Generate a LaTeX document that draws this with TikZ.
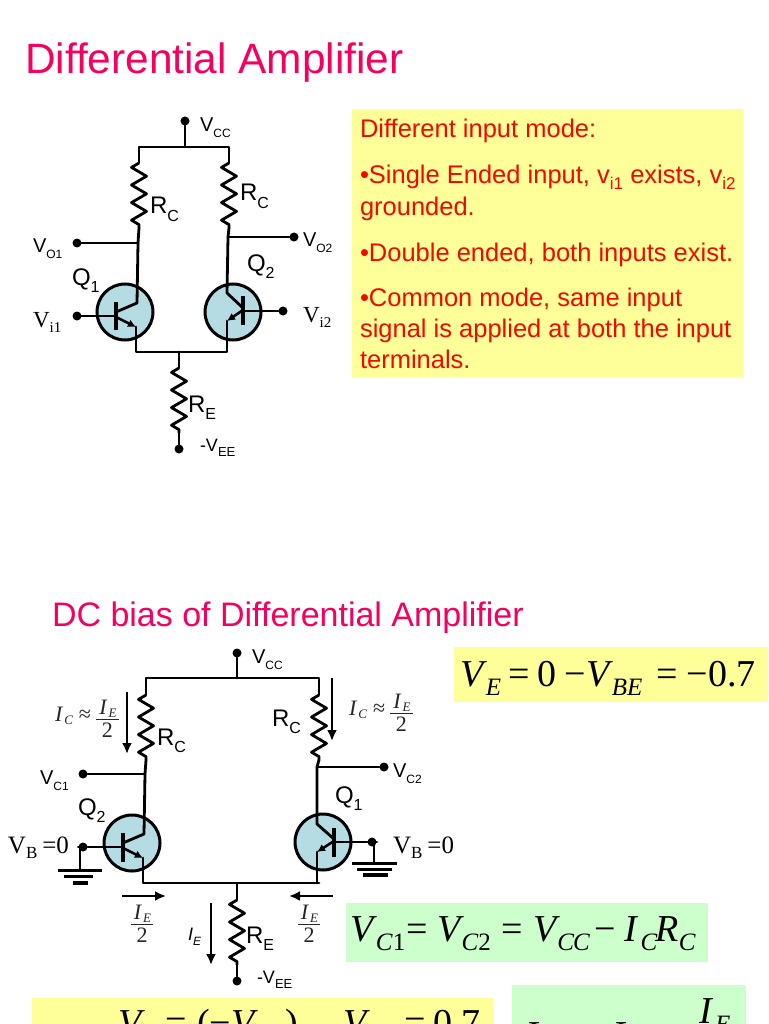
\documentclass[tikz,border=0pt]{standalone}
\usepackage{fontspec}
\setmainfont[Ligatures=NoCommon]{Liberation Sans}
\newfontfamily\tms[Ligatures=NoCommon]{Liberation Serif}
\usetikzlibrary{arrows.meta,decorations.pathmorphing}
\definecolor{ybox}{HTML}{FFFF99}
\definecolor{gbox}{HTML}{CCFFCC}
\definecolor{tred}{HTML}{EE0A00}
\definecolor{tpink}{HTML}{F5005F}
\definecolor{tblue}{HTML}{B4DCE2}
\newcommand\fsz[1]{\fontsize{#1}{#1}\selectfont}
% sans label with subscript
\newcommand\slab[4]{{\fsz{#1}#2\raisebox{-0.3em}{\fsz{#3}#4}}}
% serif label with subscript
\newcommand\tlab[4]{{\tms\fsz{#1}#2\raisebox{-0.22em}{\fsz{#3}#4}}}
% big equation pieces
\newcommand\eS[1]{\raisebox{-9pt}{\fsz{25}#1}}
\newcommand\eI[1]{\textit{#1}}
\newcommand\eT[1]{{\tms\fsz{38}#1}}
\newcommand\smI[1]{\mbox{\tms\itshape\fsz{22}I\kern2pt\raisebox{-3pt}{\fsz{13}#1}}}
\newcommand\iefrac{$\displaystyle{\mbox{\kern3pt\smI{E}\kern2pt\rule[-3pt]{0pt}{3pt}}\over\mbox{\tms\fsz{22}\rule{0pt}{17pt}2}}$}
\newcommand\icfrac{\smI{C}\kern6pt{\tms\fsz{22}≈}\kern4pt\iefrac}
\tikzset{
  wire/.style={line width=2.8pt,line cap=round,line join=round},
  res/.style={xshift=-2pt,line width=2.8pt,line join=round,decorate,decoration={zigzag,segment length=17.6pt,amplitude=-7.5pt}},
  curr/.style={line width=2.4pt,-{Latex[length=11pt,width=10pt]}},
  emit/.style={line width=2.6pt,-{Latex[length=8pt,width=8pt]}},
  bar/.style={line width=3.4pt},
  dot/.style={circle,fill=black,inner sep=0pt,minimum size=9pt},
  bjt/.style={circle,draw=black,line width=3pt,fill=tblue,inner sep=0pt,minimum size=56pt},
  lbl/.style={anchor=base west,inner sep=0pt,outer sep=0pt},
  ctr/.style={anchor=center,inner sep=0pt,outer sep=0pt,text=black!85},
  rtext/.style={lbl,text=tred,font=\fsz{25.5}},
}
\begin{document}
\begin{tikzpicture}[x=1pt,y=-1pt]
\path[use as bounding box,clip] (0,0) rectangle (768,1024);
\fill[white] (0,0) rectangle (768,1024);
% boxes
\fill[ybox] (352,109) rectangle (743,377);
\fill[ybox] (454,647) rectangle (768,702);
\fill[gbox] (346,903) rectangle (708,962);
\fill[ybox] (32,998) rectangle (493,1024);
\fill[gbox] (512,985) rectangle (746,1024);
% titles
\node[lbl,text=tpink,font=\fsz{42.4}] (title1) at (25,74) {Differential Amplifier};
\node[lbl,text=tpink,font=\fsz{34}] (title2) at (52,626) {DC bias of Differential Amplifier};
% text box
\node[rtext] (t1) at (360,138) {Different input mode:};
\node[rtext] (t2) at (360,184) {•Single Ended input, v\raisebox{-0.2em}{\fsz{17}i1} exists, v\raisebox{-0.2em}{\fsz{17}i2}};
\node[rtext] (t3) at (360,215) {grounded.};
\node[rtext] (t4) at (360,261) {•Double ended, both inputs exist.};
\node[rtext] (t5) at (360,306) {•Common mode, same input};
\node[rtext] (t6) at (360,337) {signal is applied at both the input};
\node[rtext] (t7) at (360,368) {terminals.};

% ---------- circuit 1
\node[bjt] (qa) at (125,312) {};
\node[bjt] (qb) at (233,312) {};
\node[dot] (vcca) at (185,121) {};
\node[dot] (vo1) at (77,243) {};
\node[dot] (vo2) at (294,237) {};
\node[dot] (vi1) at (77,316) {};
\node[dot] (vi2) at (283,311) {};
\node[dot] (veea) at (179,449) {};
\coordinate (tapa) at (185,147);
\coordinate (tl1) at (139,147);
\coordinate (tr1) at (229,147);
\coordinate (r1a) at (139,163);
\coordinate (r1b) at (139,228);
\coordinate (r2a) at (229,163);
\coordinate (r2b) at (229,228);
\coordinate (j1) at (138,243);
\coordinate (j2) at (228,237);
\coordinate (c1) at (137,303);
\coordinate (c2) at (227,293);
\coordinate (ba) at (116,316);
\coordinate (bb) at (243,311);
\coordinate (e1) at (136,327);
\coordinate (e2) at (227,321);
\coordinate (bl1) at (136,352);
\coordinate (br1) at (227,352);
\coordinate (tapb) at (179,352);
\coordinate (r3a) at (179,368);
\coordinate (r3b) at (179,433);
\draw[wire] (vcca) -- (tapa);
\draw[wire] (r1a) -- (tl1) -- (tr1) -- (r2a);
\draw[res] (r1a) -- (r1b);
\draw[res] (r2a) -- (r2b);
\draw[wire] (r1b) -- (j1) -- (c1) -- (116,312);
\draw[wire] (r2b) -- (j2) -- (c2) -- (243,308);
\draw[wire] (vo1) -- (j1);
\draw[wire] (vo2) -- (j2);
\draw[wire] (vi1) -- (ba);
\draw[wire] (vi2) -- (bb);
\draw[bar] (116,302) -- (116,330);
\draw[bar] (243,296) -- (243,325);
\draw[emit] (116,317) -- (e1);
\draw[emit] (243,310) -- (e2);
\draw[wire] (e1) -- (bl1) -- (br1) -- (e2);
\draw[wire] (tapb) -- (r3a);
\draw[res] (r3a) -- (r3b);
\draw[wire] (r3b) -- (veea);
\node[lbl] (l1) at (200,132) {\slab{20}{V}{12}{CC}};
\node[lbl] (l2) at (150,214) {\slab{24}{R}{16}{C}};
\node[lbl] (l3) at (240,201) {\slab{24}{R}{16}{C}};
\node[lbl] (l4) at (33,252) {\slab{20}{V}{12}{O1}};
\node[lbl] (l5) at (303,246) {\slab{20}{V}{12}{O2}};
\node[lbl] (l6) at (72,285) {\slab{24}{Q}{16}{1}};
\node[lbl] (l7) at (247,271) {\slab{24}{Q}{16}{2}};
\node[lbl] (l8) at (33,327) {\tlab{23}{V}{15}{i1}};
\node[lbl] (l9) at (303,322) {\tlab{23}{V}{15}{i2}};
\node[lbl] (l10) at (188,412) {\slab{24}{R}{16}{E}};
\node[lbl] (l11) at (200,451) {\slab{18}{-V}{13}{EE}};

% ---------- circuit 2
\node[bjt] (qc) at (132,843) {};
\node[bjt] (qd) at (323,842) {};
\node[dot] (vccb) at (237,653) {};
\node[dot] (vc1) at (83,774) {};
\node[dot] (vc2) at (384,767) {};
\node[dot] (vbl) at (83,847) {};
\node[dot] (vbr) at (372,842) {};
\node[dot] (veeb) at (237,981) {};
\coordinate (tapc) at (237,678);
\coordinate (tl2) at (146,678);
\coordinate (tr2) at (319,678);
\coordinate (r4a) at (146,695);
\coordinate (r4b) at (146,760);
\coordinate (r5a) at (319,695);
\coordinate (r5b) at (319,760);
\coordinate (j3) at (145,774);
\coordinate (j4) at (317,767);
\coordinate (c3) at (144,834);
\coordinate (c4) at (317,824);
\coordinate (bc) at (123,847);
\coordinate (bd) at (334,842);
\coordinate (e3) at (143,858);
\coordinate (e4) at (317,852);
\coordinate (bl2) at (143,883);
\coordinate (br2) at (319,883);
\coordinate (tapd) at (237,883);
\coordinate (r6a) at (237,900);
\coordinate (r6b) at (237,965);
\coordinate (gl) at (80,869);
\coordinate (gr) at (374,863);
\draw[wire] (vccb) -- (tapc);
\draw[wire] (r4a) -- (tl2) -- (tr2) -- (r5a);
\draw[res] (r4a) -- (r4b);
\draw[res] (r5a) -- (r5b);
\draw[wire] (r4b) -- (j3) -- (c3) -- (123,843);
\draw[wire] (r5b) -- (j4) -- (c4) -- (334,839);
\draw[wire] (vc1) -- (j3);
\draw[wire] (vc2) -- (j4);
\draw[wire] (vbl) -- (bc);
\draw[wire] (vbr) -- (bd);
\draw[bar] (123,833) -- (123,862);
\draw[bar] (334,828) -- (334,857);
\draw[emit] (123,848) -- (e3);
\draw[emit] (334,841) -- (e4);
\draw[wire] (e3) -- (bl2) -- (br2);
\draw[wire] (e4) -- (317,883);
\draw[wire] (tapd) -- (r6a);
\draw[res] (r6a) -- (r6b);
\draw[wire] (r6b) -- (veeb);
% grounds
\draw[wire] (vbl) -- (80,847) -- (gl);
\draw[line width=3pt] (58,870) -- (102,870);
\draw[line width=3pt] (64,876) -- (93,876);
\draw[line width=4pt] (73,883) -- (88,883);
\draw[wire] (vbr) -- (374,842) -- (gr);
\draw[line width=3pt] (352,863) -- (397,863);
\draw[line width=3pt] (357,869) -- (392,869);
\draw[line width=4pt] (363,875) -- (388,875);
% current arrows
\coordinate (ia1) at (127,692); \coordinate (ia2) at (127,754);
\coordinate (ib1) at (332,678); \coordinate (ib2) at (332,741);
\coordinate (ic1) at (122,896); \coordinate (ic2) at (166,896);
\coordinate (id1) at (333,896); \coordinate (id2) at (289,896);
\coordinate (ie1) at (211,903); \coordinate (ie2) at (211,965);
\draw[curr] (ia1) -- (ia2);
\draw[curr] (ib1) -- (ib2);
\draw[curr] (ic1) -- (ic2);
\draw[curr] (id1) -- (id2);
\draw[curr] (ie1) -- (ie2);
% labels
\node[lbl] (m1) at (252,663) {\slab{20}{V}{12}{CC}};
\node[lbl] (m2) at (157,745) {\slab{24}{R}{16}{C}};
\node[lbl] (m3) at (272,726) {\slab{24}{R}{16}{C}};
\node[lbl] (m4) at (40,784) {\slab{20}{V}{12}{C1}};
\node[lbl] (m5) at (393,777) {\slab{20}{V}{12}{C2}};
\node[lbl] (m6) at (78,815) {\slab{24}{Q}{16}{2}};
\node[lbl] (m7) at (335,803) {\slab{24}{Q}{16}{1}};
\node[lbl] (m8) at (8,853) {\tlab{25}{V}{17}{B}{\tms\fsz{25}\kern5pt=0}};
\node[lbl] (m9) at (393,853) {\tlab{25}{V}{17}{B}{\tms\fsz{25}\kern5pt=0}};
\node[lbl] (m10) at (246,943) {\slab{24}{R}{16}{E}};
\node[lbl] (m11) at (257,983) {\slab{18}{-V}{13}{EE}};
\node[lbl] (m12) at (188,940) {\slab{18}{\itshape I}{12}{\itshape E}};
\node[ctr,anchor=west] (f1) at (55,719) {\icfrac};
\node[ctr,anchor=west] (f2) at (349,713) {\icfrac};
\node[ctr] (f3) at (142,924) {\iefrac};
\node[ctr] (f4) at (309,924) {\iefrac};
% equations
\node[lbl] (eq1) at (460,686) {\eT{\eI{V}\kern-1pt\eS{\eI{E}}\kern7pt=\kern8pt0\kern8pt−\kern0pt\eI{V}\kern-1pt\eS{\eI{BE}}\kern14pt=\kern9pt−0.7}};
\node[lbl] (eq2) at (350,941) {\eT{\eI{V}\kern-1pt\eS{\eI{C}1}\kern1pt=\kern10pt\eI{V}\kern-3pt\eS{\eI{C}2}\kern11pt=\kern10pt\eI{V}\kern-3pt\eS{\eI{C}\kern-1pt\eI{C}}\kern4pt−\kern9pt\eI{I}\kern2pt\eS{\eI{C}}\kern-2pt\eI{R}\kern0pt\eS{\eI{C}}}};
% clipped equation, bottom yellow box
\node[lbl] (b1) at (118,1035) {\eT{\itshape V}};
\node[lbl] (b2) at (165,1035) {\eT{=}};
\node[lbl] (b3) at (197,1035) {\eT{(−\itshape V}};
\node[lbl] (b4) at (285,1035) {\eT{)}};
\node[lbl] (b5) at (343,1035) {\eT{\itshape V}};
\node[lbl] (b6) at (404,1035) {\eT{=}};
\node[lbl] (b7) at (433,1035) {\eT{0.7}};
% clipped equation, bottom green box
\node[lbl] (g1) at (525,1047) {\eT{\itshape I}};
\node[lbl] (g2) at (612,1047) {\eT{\itshape I}};
\node[lbl] (g3) at (699,1023) {\eT{\eI{I}\kern2pt\eS{\eI{E}}}};
\end{tikzpicture}
\end{document}
